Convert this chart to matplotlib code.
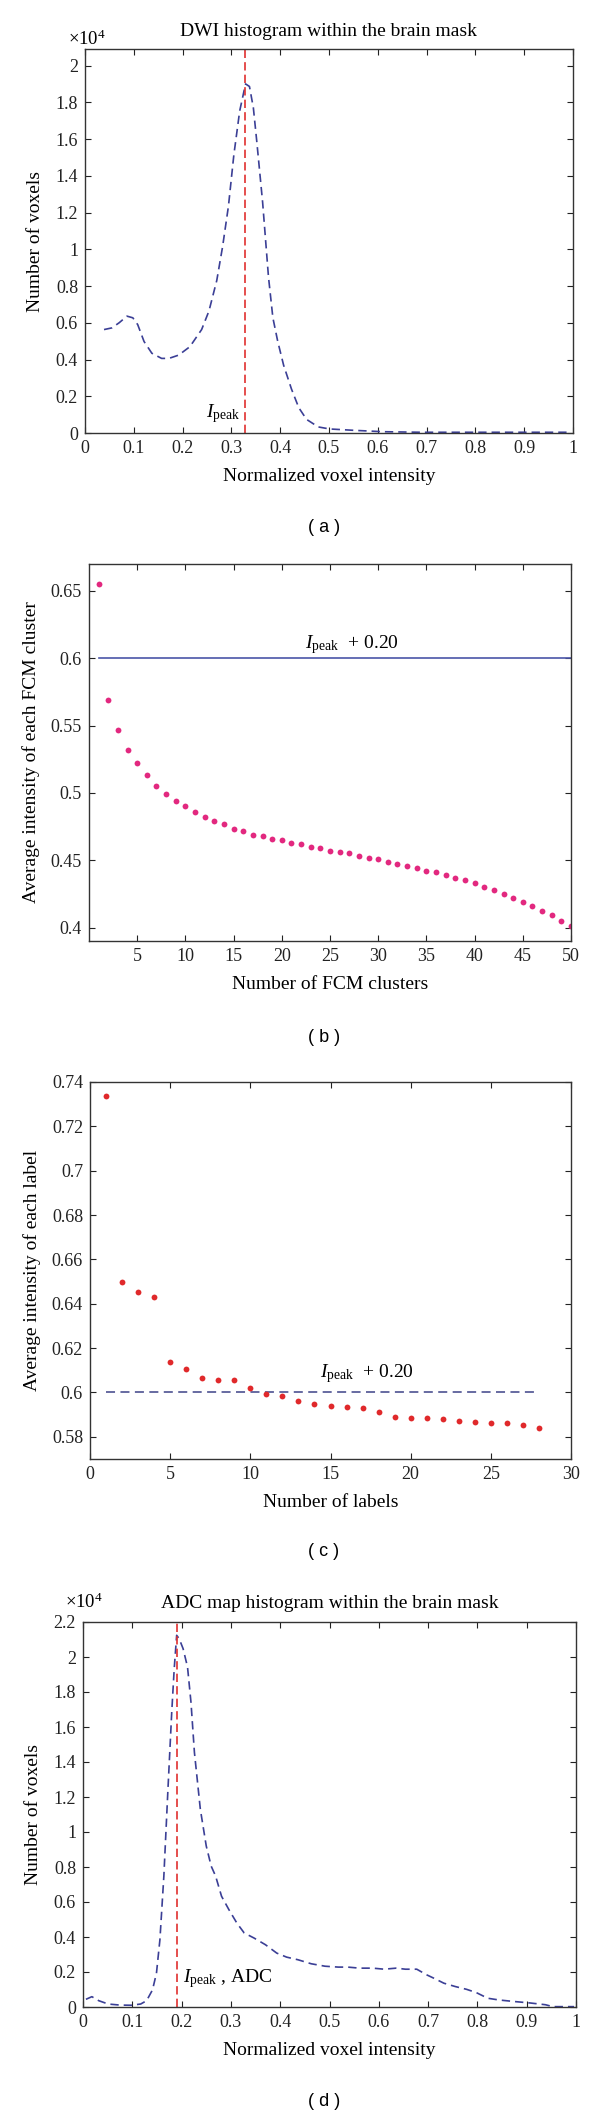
import matplotlib
matplotlib.use("Agg")
import matplotlib.pyplot as plt
from matplotlib.ticker import FuncFormatter

plt.rcParams['font.family'] = ['Liberation Serif', 'DejaVu Serif']
plt.rcParams['mathtext.fontset'] = 'custom'
plt.rcParams['mathtext.rm'] = 'Liberation Serif'
plt.rcParams['mathtext.it'] = 'Liberation Serif:italic'

# (a) DWI histogram, counts
dwi_x = [0.039, 0.055, 0.070, 0.086, 0.098, 0.108, 0.121, 0.137, 0.157, 0.172,
         0.192, 0.215, 0.239, 0.254, 0.270, 0.282, 0.294, 0.305, 0.317, 0.329,
         0.337, 0.345, 0.352, 0.364, 0.376, 0.385, 0.395, 0.407, 0.423, 0.438,
         0.454, 0.478, 0.501, 0.548, 0.611, 0.689, 0.80, 0.90, 0.987]
dwi_y = [5630, 5720, 6000, 6360, 6270, 5900, 4980, 4340, 4060, 4060,
         4240, 4700, 5630, 6640, 8300, 10150, 12360, 15130, 17530, 19000,
         18860, 17700, 15870, 12550, 8490, 6270, 4980, 3690, 2400, 1380,
         740, 330, 220, 150, 70, 40, 40, 40, 40]
dwi_peak = 0.327

# (b) FCM clusters
fcm_n = list(range(1, 51))
fcm_avg = [0.655, 0.569, 0.547, 0.532, 0.522, 0.513, 0.505, 0.499, 0.494, 0.490,
           0.486, 0.482, 0.479, 0.477, 0.473, 0.472, 0.469, 0.468, 0.466, 0.465,
           0.463, 0.462, 0.460, 0.459, 0.457, 0.456, 0.455, 0.453, 0.452, 0.451,
           0.449, 0.447, 0.446, 0.444, 0.442, 0.441, 0.439, 0.437, 0.435, 0.433,
           0.430, 0.428, 0.425, 0.422, 0.419, 0.416, 0.412, 0.409, 0.405, 0.401]

# (c) labels
lab_n = list(range(1, 29))
lab_avg = [0.7336, 0.6497, 0.6453, 0.6429, 0.6139, 0.6104, 0.6065, 0.6054, 0.6054, 0.6019,
           0.5995, 0.5984, 0.5960, 0.5949, 0.5939, 0.5934, 0.5929, 0.5910, 0.5890, 0.5885,
           0.5885, 0.5881, 0.5870, 0.5865, 0.5861, 0.5861, 0.5855, 0.5840]
thresh = 0.60

# (d) ADC histogram, counts
adc_x = [0.006, 0.018, 0.032, 0.051, 0.075, 0.098, 0.117, 0.129, 0.141, 0.149,
         0.156, 0.164, 0.172, 0.180, 0.185, 0.190, 0.195, 0.203, 0.212, 0.219,
         0.226, 0.238, 0.250, 0.260, 0.269, 0.281, 0.296, 0.312, 0.327, 0.347,
         0.370, 0.393, 0.413, 0.436, 0.463, 0.491, 0.518, 0.537, 0.561, 0.588,
         0.611, 0.635, 0.654, 0.677, 0.697, 0.712, 0.732, 0.755, 0.778, 0.798,
         0.821, 0.844, 0.876, 0.907, 0.938, 0.953, 0.996]
adc_y = [440, 590, 360, 170, 110, 100, 170, 360, 980, 1930,
         3840, 7480, 12260, 16850, 19330, 21240, 21050, 20480, 19430, 17420,
         14550, 11300, 9200, 8050, 7480, 6330, 5560, 4800, 4230, 3940,
         3560, 3080, 2850, 2700, 2470, 2330, 2280, 2280, 2220, 2220,
         2160, 2220, 2160, 2160, 1840, 1640, 1360, 1170, 1010, 820,
         500, 400, 310, 230, 130, 20, 20]
adc_peak = 0.19

W, H = 600, 2118
fig = plt.figure(figsize=(6, 21.18), dpi=100)

def box(l, r, t, b):
    return [l / W, 1 - b / H, (r - l) / W, (b - t) / H]

def style(ax):
    ax.tick_params(direction='in', top=True, right=True, length=4, width=0.8,
                   labelsize=13, colors='#222222', pad=5)
    for s in ax.spines.values():
        s.set_color('#333333')
        s.set_linewidth(1.0)

fs = 14
navy = '#3b3f96'
red = '#e0302f'
e4 = FuncFormatter(lambda v, p: '%g' % round(v / 1e4, 2))
g = FuncFormatter(lambda v, p: '%g' % round(v, 3))

# ---- (a)
ax = fig.add_axes(box(85, 573, 49, 433))
ax.plot(dwi_x, dwi_y, color=navy, lw=1.2, dashes=(5, 3))
ax.axvline(dwi_peak, color=red, lw=1.2, dashes=(5, 2.5))
ax.set_xlim(0, 1)
ax.set_ylim(0, 20900)
ax.set_xticks([i / 10 for i in range(11)])
ax.set_yticks([i * 2000 for i in range(11)])
ax.xaxis.set_major_formatter(g)
ax.yaxis.set_major_formatter(e4)
ax.set_title('DWI histogram within the brain mask', fontsize=fs, pad=9)
ax.set_xlabel('Normalized voxel intensity', fontsize=fs, labelpad=8)
ax.set_ylabel('Number of voxels', fontsize=fs, labelpad=8)
ax.text(-0.035, 1.026, r'$\times10^4$', transform=ax.transAxes, fontsize=13.5, va='center')
ax.text(dwi_peak - 0.008, 1070, r'$I_{\rm peak}$', fontsize=fs, ha='right', va='center')
style(ax)
fig.text(324 / W, 1 - 527 / H, '( a )', family='Liberation Sans', fontsize=13, ha='center', va='center')

# ---- (b)
ax = fig.add_axes(box(89, 571, 564, 941))
ax.plot([fcm_n[0], fcm_n[-1]], [thresh, thresh], color='#4a55a8', lw=1.2)
ax.plot(fcm_n, fcm_avg, 'o', color='#e2287f', ms=4.2, mec='none')
ax.set_xlim(0, 50)
ax.set_ylim(0.39, 0.67)
ax.set_xticks(range(5, 51, 5))
ax.set_yticks([0.4, 0.45, 0.5, 0.55, 0.6, 0.65])
ax.yaxis.set_major_formatter(g)
ax.set_xlabel('Number of FCM clusters', fontsize=fs, labelpad=8)
ax.set_ylabel('Average intensity of each FCM cluster', fontsize=fs, labelpad=8)
ax.text(27.3, 0.61, r'$I_{\rm peak}$  + 0.20', fontsize=fs, ha='center', va='center')
style(ax)
fig.text(324 / W, 1 - 1038 / H, '( b )', family='Liberation Sans', fontsize=13, ha='center', va='center')

# ---- (c)
ax = fig.add_axes(box(90, 571, 1082, 1459))
ax.plot([lab_n[0], lab_n[-1]], [thresh, thresh], color='#5a5f9a', lw=1.3, dashes=(5, 3))
ax.plot(lab_n, lab_avg, 'o', color='#e0292b', ms=4.2, mec='none')
ax.set_xlim(0, 30)
ax.set_ylim(0.57, 0.74)
ax.set_xticks(range(0, 31, 5))
ax.set_yticks([0.58 + 0.02 * i for i in range(9)])
ax.yaxis.set_major_formatter(g)
ax.set_xlabel('Number of labels', fontsize=fs, labelpad=8)
ax.set_ylabel('Average intensity of each label', fontsize=fs, labelpad=8)
ax.text(17.3, 0.6085, r'$I_{\rm peak}$  + 0.20', fontsize=fs, ha='center', va='center')
style(ax)
fig.text(324 / W, 1 - 1552 / H, '( c )', family='Liberation Sans', fontsize=13, ha='center', va='center')

# ---- (d)
ax = fig.add_axes(box(83, 576, 1622, 2007))
ax.plot(adc_x, adc_y, color=navy, lw=1.2, dashes=(5, 3))
ax.axvline(adc_peak, color=red, lw=1.2, dashes=(5, 2.5))
ax.set_xlim(0, 1)
ax.set_ylim(0, 22000)
ax.set_xticks([i / 10 for i in range(11)])
ax.set_yticks([i * 2000 for i in range(12)])
ax.xaxis.set_major_formatter(g)
ax.yaxis.set_major_formatter(e4)
ax.set_title('ADC map histogram within the brain mask', fontsize=fs, pad=10)
ax.set_xlabel('Normalized voxel intensity', fontsize=fs, labelpad=8)
ax.set_ylabel('Number of voxels', fontsize=fs, labelpad=8)
ax.text(-0.037, 1.052, r'$\times10^4$', transform=ax.transAxes, fontsize=13.5, va='center')
ax.text(adc_peak + 0.012, 1650, r'$I_{\rm peak}$ , ADC', fontsize=fs, ha='left', va='center')
style(ax)
fig.text(324 / W, 1 - 2102 / H, '( d )', family='Liberation Sans', fontsize=13, ha='center', va='center')

fig.savefig('out.png', dpi=100)
